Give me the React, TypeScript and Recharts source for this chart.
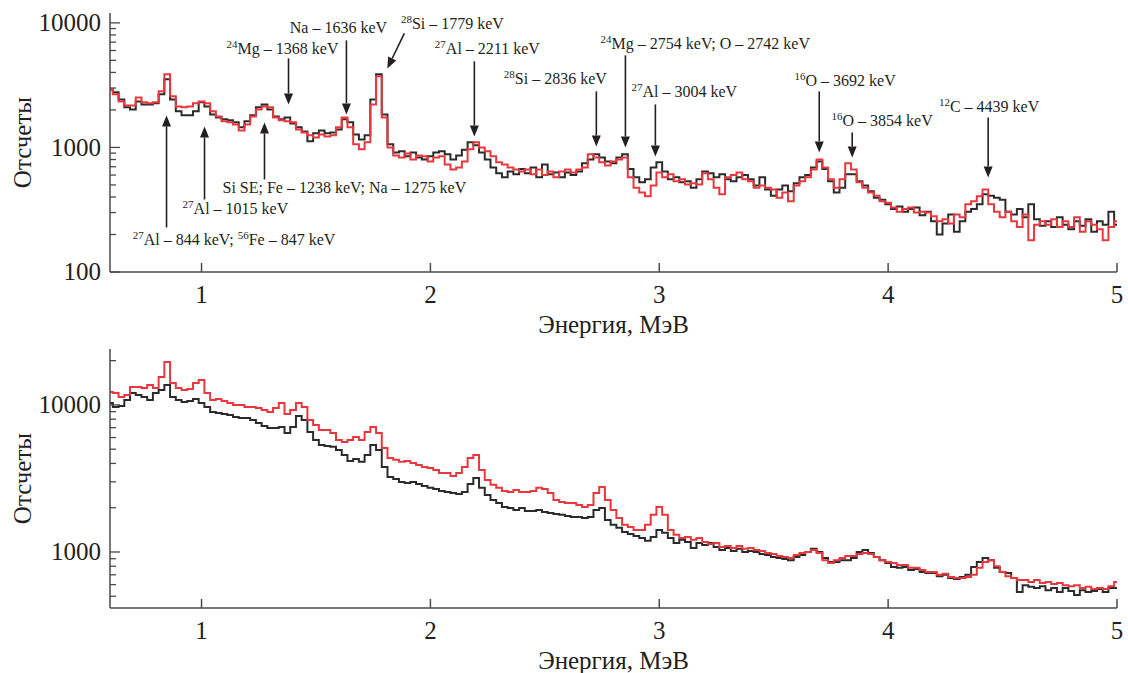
import { LineChart, Line, XAxis, YAxis, ReferenceLine, ReferenceDot } from 'recharts'

// bin centres, MeV
const energy = [
  0.6, 0.625, 0.65, 0.675,
  0.7, 0.725, 0.75, 0.775,
  0.8, 0.825, 0.85, 0.875,
  0.9, 0.925, 0.95, 0.975,
  1.0, 1.025, 1.05, 1.075,
  1.1, 1.125, 1.15, 1.175,
  1.2, 1.225, 1.25, 1.275,
  1.3, 1.325, 1.35, 1.375,
  1.4, 1.425, 1.45, 1.475,
  1.5, 1.525, 1.55, 1.575,
  1.6, 1.625, 1.65, 1.675,
  1.7, 1.725, 1.75, 1.775,
  1.8, 1.825, 1.85, 1.875,
  1.9, 1.925, 1.95, 1.975,
  2.0, 2.025, 2.05, 2.075,
  2.1, 2.125, 2.15, 2.175,
  2.2, 2.225, 2.25, 2.275,
  2.3, 2.325, 2.35, 2.375,
  2.4, 2.425, 2.45, 2.475,
  2.5, 2.525, 2.55, 2.575,
  2.6, 2.625, 2.65, 2.675,
  2.7, 2.725, 2.75, 2.775,
  2.8, 2.825, 2.85, 2.875,
  2.9, 2.925, 2.95, 2.975,
  3.0, 3.025, 3.05, 3.075,
  3.1, 3.125, 3.15, 3.175,
  3.2, 3.225, 3.25, 3.275,
  3.3, 3.325, 3.35, 3.375,
  3.4, 3.425, 3.45, 3.475,
  3.5, 3.525, 3.55, 3.575,
  3.6, 3.625, 3.65, 3.675,
  3.7, 3.725, 3.75, 3.775,
  3.8, 3.825, 3.85, 3.875,
  3.9, 3.925, 3.95, 3.975,
  4.0, 4.025, 4.05, 4.075,
  4.1, 4.125, 4.15, 4.175,
  4.2, 4.225, 4.25, 4.275,
  4.3, 4.325, 4.35, 4.375,
  4.4, 4.425, 4.45, 4.475,
  4.5, 4.525, 4.55, 4.575,
  4.6, 4.625, 4.65, 4.675,
  4.7, 4.725, 4.75, 4.775,
  4.8, 4.825, 4.85, 4.875,
  4.9, 4.925, 4.95, 4.975,
  5.0,
]

// upper panel, counts
const topBlack = [
  2920, 2770, 2430, 2100,
  2020, 2340, 2210, 2210,
  2260, 2670, 3520, 2430,
  1950, 1810, 1810, 1950,
  2300, 2130, 1840, 1740,
  1680, 1650, 1590, 1450,
  1620, 1810, 2100, 2210,
  2020, 1770, 1680, 1740,
  1560, 1450, 1345, 1120,
  1300, 1370, 1300, 1320,
  1395, 1680, 1590, 1270,
  1160, 1250, 2430, 3860,
  1840, 1060, 910, 930,
  850, 910, 830, 800,
  850, 910, 930, 880,
  800, 860, 960, 1100,
  1040, 910, 800, 690,
  620, 575, 640, 610,
  670, 620, 690, 575,
  730, 610, 630, 575,
  630, 600, 640, 745,
  800, 880, 830, 770,
  745, 830, 880, 670,
  575, 525, 555, 690,
  760, 640, 555, 575,
  525, 535, 475, 555,
  640, 620, 575, 610,
  555, 535, 575, 600,
  555, 495, 575, 460,
  410, 460, 495, 445,
  515, 575, 600, 690,
  770, 670, 535, 435,
  475, 610, 610, 535,
  495, 445, 395, 380,
  350, 320, 335, 305,
  320, 330, 285, 305,
  255, 200, 245, 290,
  210, 255, 305, 320,
  350, 420, 410, 395,
  380, 305, 290, 320,
  275, 350, 265, 235,
  255, 230, 275, 240,
  220, 255, 235, 265,
  210, 255, 240, 305,
  240,
]

const topRed = [
  2920, 2670, 2340, 2170,
  2170, 2520, 2300, 2260,
  2300, 2820, 3860, 2570,
  2130, 2100, 2130, 2260,
  2340, 2260, 1950, 1770,
  1620, 1590, 1530, 1370,
  1530, 1770, 2020, 2130,
  2100, 1740, 1650, 1620,
  1590, 1395, 1320, 1250,
  1200, 1270, 1225, 1250,
  1450, 1740, 1450, 1060,
  965, 1100, 2210, 3720,
  1740, 1000, 860, 830,
  895, 800, 860, 850,
  770, 830, 850, 730,
  665, 690, 770, 965,
  1100, 1000, 930, 850,
  760, 730, 690, 665,
  640, 665, 610, 665,
  600, 640, 575, 640,
  665, 630, 665, 690,
  880, 830, 760, 715,
  770, 800, 830, 575,
  475, 435, 405, 495,
  630, 575, 610, 535,
  555, 505, 515, 505,
  620, 555, 475, 420,
  575, 600, 630, 555,
  535, 475, 495, 475,
  460, 395, 435, 370,
  495, 535, 575, 665,
  800, 690, 555, 475,
  555, 745, 665, 525,
  475, 435, 410, 370,
  360, 330, 305, 320,
  330, 300, 305, 300,
  280, 255, 265, 245,
  290, 275, 350, 370,
  405, 460, 350, 305,
  275, 305, 255, 230,
  290, 180, 240, 255,
  240, 265, 230, 255,
  230, 275, 210, 255,
  240, 220, 180, 230,
  255,
]

// lower panel, counts
const bottomBlack = [
  10320, 9690, 9850, 10810,
  12070, 11700, 11330, 10810,
  12070, 12650, 13680, 11330,
  10810, 10480, 10650, 10990,
  10320, 9690, 8960, 8820,
  8690, 8550, 8290, 8160,
  8160, 7910, 7540, 7200,
  6980, 6980, 7090, 6450,
  7090, 8420, 7910, 6550,
  5780, 5340, 5260, 5190,
  4940, 4570, 4160, 4290,
  4100, 4570, 5340, 4940,
  3790, 3240, 3140, 2990,
  2950, 2990, 2900, 2810,
  2730, 2680, 2600, 2560,
  2520, 2480, 2560, 2900,
  3190, 2730, 2440, 2260,
  2150, 2020, 1990, 1930,
  1990, 1900, 1900, 1930,
  1870, 1840, 1810, 1790,
  1760, 1730, 1730, 1700,
  1730, 1930, 1990, 1650,
  1530, 1460, 1370, 1325,
  1285, 1245, 1190, 1265,
  1410, 1350, 1245, 1150,
  1210, 1170, 1065, 1150,
  1115, 1150, 1080, 1030,
  1065, 1015, 1050, 1000,
  1015, 1000, 970, 955,
  925, 910, 895, 880,
  925, 955, 1000, 1050,
  1000, 910, 855, 855,
  880, 880, 910, 1000,
  1030, 985, 925, 880,
  840, 790, 780, 790,
  755, 765, 730, 720,
  720, 685, 700, 665,
  655, 675, 700, 790,
  855, 910, 880, 780,
  730, 720, 665, 535,
  595, 580, 570, 585,
  550, 570, 535, 570,
  543, 510, 550, 535,
  543, 560, 535, 570,
  570,
]

const bottomRed = [
  12260, 12070, 11330, 11700,
  13260, 13260, 13050, 13680,
  13050, 15500, 19610, 14110,
  13050, 12650, 12850, 14110,
  14790, 12070, 10810, 10990,
  10650, 10320, 10000, 10000,
  9690, 9690, 9540, 9250,
  8960, 9540, 10320, 8690,
  9250, 10320, 9690, 7910,
  7310, 6760, 6760, 6450,
  5780, 5600, 5780, 6060,
  5780, 6550, 7090, 6450,
  5100, 4360, 4230, 4100,
  4160, 4030, 3910, 3790,
  3730, 3610, 3450, 3450,
  3290, 3450, 3790, 4360,
  4570, 3610, 3090, 2860,
  2730, 2600, 2560, 2640,
  2560, 2560, 2600, 2730,
  2680, 2520, 2260, 2190,
  2150, 2150, 2090, 2020,
  2090, 2520, 2770, 2260,
  1930, 1700, 1530, 1480,
  1410, 1410, 1530, 1790,
  2020, 1790, 1410, 1310,
  1245, 1265, 1210, 1245,
  1170, 1135, 1150, 1080,
  1100, 1065, 1100, 1050,
  1065, 1030, 1015, 985,
  970, 940, 925, 910,
  955, 985, 1000, 1030,
  985, 880, 840, 880,
  910, 940, 940, 970,
  985, 970, 925, 880,
  855, 840, 815, 815,
  780, 780, 755, 730,
  730, 700, 710, 675,
  665, 665, 675, 700,
  780, 855, 880, 800,
  730, 685, 665, 645,
  645, 625, 645, 615,
  625, 605, 615, 595,
  585, 595, 570, 580,
  560, 570, 560, 585,
  625,
]

const xTicks = [1, 2, 3, 4, 5]
const topTicks = [100, 200, 300, 400, 500, 600, 700, 800, 900, 1000, 2000, 3000, 4000, 5000, 6000, 7000, 8000, 9000, 10000]
const bottomTicks = [500, 600, 700, 800, 900, 1000, 2000, 3000, 4000, 5000, 6000, 7000, 8000, 9000, 10000, 20000]
const majorTicks = [100, 1000, 10000]

// line annotations of the upper panel: text centre / baseline in data units, "^..^" = superscript
const peakLabels = [
  { e: 1.354, c: 5585, text: '^24^Mg – 1368 keV' },
  { e: 1.598, c: 8237, text: 'Na – 1636 keV' },
  { e: 2.096, c: 8867, text: '^28^Si – 1779 keV' },
  { e: 2.249, c: 5585, text: '^27^Al – 2211 keV' },
  { e: 2.546, c: 3206, text: '^28^Si – 2836 keV' },
  { e: 3.201, c: 6126, text: '^24^Mg – 2754 keV; O – 2742 keV' },
  { e: 3.109, c: 2521, text: '^27^Al – 3004 keV' },
  { e: 3.812, c: 3090, text: '^16^O – 3692 keV' },
  { e: 3.974, c: 1475, text: '^16^O – 3854 keV' },
  { e: 4.441, c: 1910, text: '^12^C – 4439 keV' },
  { e: 1.624, c: 427, text: 'Si SE; Fe – 1238 keV; Na – 1275 keV' },
  { e: 1.148, c: 290, text: '^27^Al – 1015 keV' },
  { e: 1.142, c: 166, text: '^27^Al – 844 keV; ^56^Fe – 847 keV' },
]

// arrows: from (e1, c1) to the head at (e2, c2)
const peakArrows = [
  { e1: 1.38, c1: 5190, e2: 1.38, c2: 2214 },
  { e1: 1.633, c1: 7236, e2: 1.633, c2: 1841 },
  { e1: 1.886, c1: 8237, e2: 1.812, c2: 4310 },
  { e1: 2.192, c1: 4908, e2: 2.192, c2: 1226 },
  { e1: 2.725, c1: 2818, e2: 2.725, c2: 1019 },
  { e1: 2.852, c1: 5483, e2: 2.852, c2: 1000 },
  { e1: 2.983, c1: 2214, e2: 2.983, c2: 847 },
  { e1: 3.699, c1: 2818, e2: 3.699, c2: 912 },
  { e1: 3.843, c1: 1320, e2: 3.843, c2: 831 },
  { e1: 4.437, c1: 1742, e2: 4.437, c2: 574 },
  { e1: 1.275, c1: 553, e2: 1.275, c2: 1588 },
  { e1: 1.013, c1: 382, e2: 1.013, c2: 1475 },
  { e1: 0.847, c1: 228, e2: 0.847, c2: 1807 },
]

const topData = energy.map((e, i) => ({ e, black: topBlack[i], red: topRed[i] }))
const bottomData = energy.map((e, i) => ({ e, black: bottomBlack[i], red: bottomRed[i] }))

const FONT = '"Liberation Serif", "DejaVu Serif", serif'
const INK = '#231f20'
const AXIS = '#4a4a4a'
const BLACK = '#2b2b2b'
const RED = '#e8383d'
const serif = { fontFamily: FONT }

function XTick(props: any) {
  const { x, y, payload } = props
  return (
    <g>
      <line x1={x} y1={y} x2={x} y2={y - 9} stroke={AXIS} strokeWidth={1.5} />
      <text x={x} y={y + 31} textAnchor="middle" fontSize={25} style={serif} fill={INK}>
        {payload.value}
      </text>
    </g>
  )
}

function YTick(props: any) {
  const { x, y, payload } = props
  const major = majorTicks.includes(payload.value)
  return (
    <g>
      <line x1={x} y1={y} x2={x + (major ? 10 : 6)} y2={y} stroke={AXIS} strokeWidth={1.3} />
      {major && (
        <text x={x - 9} y={y} dy="0.33em" textAnchor="end" fontSize={25} style={serif} fill={INK}>
          {payload.value}
        </text>
      )}
    </g>
  )
}

const xTitle = (props: any) => {
  const vb = props.viewBox || { x: 110, y: 272, width: 1007 }
  return (
    <text x={vb.x + vb.width / 2} y={vb.y + 61} textAnchor="middle" fontSize={25} style={serif} fill={INK}>
      Энергия, МэВ
    </text>
  )
}

const yTitle = (props: any) => {
  const vb = props.viewBox || { y: 13, height: 259 }
  const cy = vb.y + vb.height / 2
  return (
    <text
      x={22}
      y={cy}
      transform={`rotate(-90 22 ${cy})`}
      textAnchor="middle"
      dominantBaseline="central"
      fontSize={25}
      style={serif}
      fill={INK}
    >
      Отсчеты
    </text>
  )
}

function arrowShape(p: any) {
  const { x1, y1, x2, y2 } = p
  const dx = x2 - x1
  const dy = y2 - y1
  const len = Math.hypot(dx, dy) || 1
  const ux = dx / len
  const uy = dy / len
  const bx = x2 - ux * 11
  const by = y2 - uy * 11
  const hw = 4.5
  return (
    <g>
      <line x1={x1} y1={y1} x2={bx} y2={by} stroke={INK} strokeWidth={1.6} />
      <polygon
        points={`${x2},${y2} ${bx - uy * hw},${by + ux * hw} ${bx + uy * hw},${by - ux * hw}`}
        fill={INK}
      />
    </g>
  )
}

function labelShape(p: any, text: string) {
  const parts = text.split('^')
  let sup = false
  return (
    <text x={p.cx} y={p.cy} textAnchor="middle" fontSize={16} style={serif} fill={INK}>
      {parts.map((s, i) => {
        const isSup = i % 2 === 1
        const dy = isSup && !sup ? -6 : !isSup && sup ? 6 : 0
        sup = isSup
        if (!s) return null
        return (
          <tspan key={i} dy={dy} fontSize={isSup ? 11 : 16}>
            {s}
          </tspan>
        )
      })}
    </text>
  )
}

function Spectrum({ data, height, top, xHeight, domain, ticks, notes }: any) {
  return (
    <LineChart width={1128} height={height} data={data} margin={{ top, right: 11, bottom: 0, left: 0 }}>
      <XAxis
        dataKey="e"
        type="number"
        domain={[0.6, 5]}
        ticks={xTicks}
        allowDataOverflow
        height={xHeight}
        interval={0}
        tickSize={0}
        tickMargin={0}
        tickLine={false}
        tick={<XTick />}
        axisLine={{ stroke: AXIS, strokeWidth: 1.5 }}
        label={xTitle}
      />
      <YAxis
        type="number"
        scale="log"
        domain={domain}
        ticks={ticks}
        allowDataOverflow
        width={110}
        interval={0}
        tickSize={0}
        tickMargin={0}
        tickLine={false}
        tick={<YTick />}
        axisLine={{ stroke: AXIS, strokeWidth: 1.5 }}
        label={yTitle}
      />
      <Line type="step" dataKey="black" stroke={BLACK} strokeWidth={2} dot={false} isAnimationActive={false} />
      <Line type="step" dataKey="red" stroke={RED} strokeWidth={2} dot={false} isAnimationActive={false} />
      {notes &&
        peakArrows.map((a, i) => (
          <ReferenceLine
            key={'a' + i}
            segment={[
              { x: a.e1, y: a.c1 },
              { x: a.e2, y: a.c2 },
            ]}
            shape={arrowShape}
          />
        ))}
      {notes &&
        peakLabels.map((l, i) => (
          <ReferenceDot key={'l' + i} x={l.e} y={l.c} r={0} shape={(p: any) => labelShape(p, l.text)} />
        ))}
    </LineChart>
  )
}

export default function App() {
  return (
    <div
      style={{ position: 'absolute', left: 0, top: 0, width: 1128, height: 673, background: '#fff', fontFamily: FONT }}
    >
      <div style={{ position: 'absolute', left: 0, top: 0 }}>
        <Spectrum data={topData} height={340} top={13} xHeight={68} domain={[100, 12000]} ticks={topTicks} notes />
      </div>
      <div style={{ position: 'absolute', left: 0, top: 340 }}>
        <Spectrum data={bottomData} height={333} top={9} xHeight={65} domain={[416, 24000]} ticks={bottomTicks} />
      </div>
    </div>
  )
}
